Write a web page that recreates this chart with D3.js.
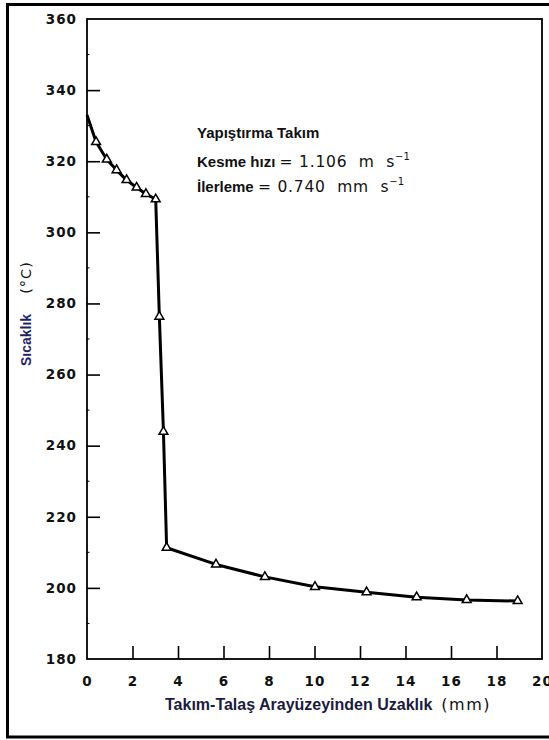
<!DOCTYPE html>
<html><head><meta charset="utf-8">
<script src="https://cdn.jsdelivr.net/npm/d3@7"></script>
<style>
html,body{margin:0;padding:0;background:#fff;}
svg{display:block;}
</style></head>
<body>
<script>
// Data
const distance = [0, 0.40, 0.87, 1.30, 1.74, 2.18, 2.59, 3.02, 3.18, 3.36, 3.50, 5.67, 7.82, 10.02, 12.29, 14.49, 16.69, 18.93];
const temperature = [333.0, 325.4, 320.5, 317.5, 314.7, 312.6, 310.8, 309.3, 276.3, 243.9, 211.3, 206.6, 203.1, 200.3, 198.8, 197.4, 196.6, 196.3];
const markerFrom = 1; // first point has no marker
const xTicks = [0, 2, 4, 6, 8, 10, 12, 14, 16, 18, 20];
const yTicks = [180, 200, 220, 240, 260, 280, 300, 320, 340, 360];
const yMinorTicks = [190, 210, 230, 250, 270, 290, 310, 330, 350];
const xLabel = "Takım-Talaş Arayüzeyinden Uzaklık";
const xUnit = "(mm)";
const yLabel = "Sıcaklık";
const yUnit = "(°C)";
const noteTitle = "Yapıştırma Takım";
const noteLines = [
  {name: "Kesme hızı", value: "= 1.106  m  s", unit: "−1"},
  {name: "İlerleme", value: "= 0.740  mm  s", unit: "−1"}
];

const W = 549, H = 740;
const m = {left: 87, top: 19, right: 542, bottom: 659};
const svg = d3.select("body").append("svg").attr("width", W).attr("height", H);

// outer frame
svg.append("rect").attr("x", 7.5).attr("y", 4.5).attr("width", 560).attr("height", 732.5)
  .attr("fill", "none").attr("stroke", "#000").attr("stroke-width", 3);

const x = d3.scaleLinear().domain([0, 20]).range([m.left, m.right]);
const y = d3.scaleLinear().domain([180, 360]).range([m.bottom, m.top]);

const tickFont = "'DejaVu Sans', sans-serif";
const textFont = "'Liberation Sans', Arial, sans-serif";

// plot box
svg.append("rect").attr("x", m.left).attr("y", m.top)
  .attr("width", m.right - m.left).attr("height", m.bottom - m.top)
  .attr("fill", "none").attr("stroke", "#000").attr("stroke-width", 1.8);

// x axis (inward ticks)
const gx = svg.append("g").attr("transform", `translate(0,${m.bottom})`)
  .call(d3.axisBottom(x).tickValues(xTicks).tickSize(-13).tickPadding(17).tickFormat(d3.format("d")));
gx.select(".domain").remove();
gx.selectAll(".tick line").attr("stroke", "#000").attr("stroke-width", 1.6);
gx.selectAll(".tick text").attr("font-family", tickFont).attr("font-weight", "bold")
  .attr("font-size", 13.5).attr("letter-spacing", 1).attr("fill", "#111");
gx.selectAll(".tick").filter(d => d === 0 || d === 20).select("line").remove();

// y axis (inward ticks)
const gy = svg.append("g").attr("transform", `translate(${m.left},0)`)
  .call(d3.axisLeft(y).tickValues(yTicks).tickSize(-13).tickPadding(10).tickFormat(d3.format("d")));
gy.select(".domain").remove();
gy.selectAll(".tick line").attr("stroke", "#000").attr("stroke-width", 1.6);
gy.selectAll(".tick text").attr("font-family", tickFont).attr("font-weight", "bold")
  .attr("font-size", 13.5).attr("letter-spacing", 1).attr("fill", "#111");
gy.selectAll(".tick").filter(d => d === 180 || d === 360).select("line").remove();

// minor y ticks
svg.append("g").selectAll("line").data(yMinorTicks).join("line")
  .attr("x1", m.left).attr("x2", m.left + 2.5)
  .attr("y1", d => y(d)).attr("y2", d => y(d))
  .attr("stroke", "#000").attr("stroke-width", 1);

// data line
const pts = distance.map((d, i) => ({x: d, y: temperature[i], i}));
svg.append("path").datum(pts)
  .attr("d", d3.line().x(d => x(d.x)).y(d => y(d.y)))
  .attr("fill", "none").attr("stroke", "#000").attr("stroke-width", 3)
  .attr("stroke-linejoin", "round");

// triangle markers
svg.append("g").selectAll("path").data(pts.filter(d => d.i >= markerFrom)).join("path")
  .attr("transform", d => `translate(${x(d.x)},${y(d.y)})`)
  .attr("d", d3.symbol(d3.symbolTriangle, 34))
  .attr("fill", "#fff").attr("stroke", "#000").attr("stroke-width", 1.5);

// annotation
const noteX = 197;
svg.append("text").attr("x", noteX).attr("y", 138)
  .attr("font-family", textFont).attr("font-weight", "bold")
  .attr("font-size", 15).attr("fill", "#111").text(noteTitle);
noteLines.forEach((ln, k) => {
  const t = svg.append("text").attr("x", noteX).attr("y", 167 + k * 25).attr("fill", "#111");
  t.append("tspan").attr("font-family", textFont)
    .attr("font-weight", "bold").attr("font-size", 15).text(ln.name + " ");
  t.append("tspan").attr("font-family", tickFont).attr("font-size", 15.5)
    .attr("letter-spacing", 0.8).style("white-space", "pre").text(ln.value);
  t.append("tspan").attr("font-family", tickFont).attr("font-size", 10)
    .attr("dy", -7).text(ln.unit);
});

// x axis label
const xl = svg.append("text").attr("x", 165).attr("y", 710);
xl.append("tspan").attr("font-family", textFont).attr("font-weight", "bold")
  .attr("font-size", 16).attr("fill", "#1b1b40").text(xLabel);
xl.append("tspan").attr("dx", 9).attr("font-family", tickFont).attr("font-size", 16)
  .attr("letter-spacing", 1.5).attr("fill", "#111").text(xUnit);

// y axis label
const yl = svg.append("text").attr("transform", "translate(31,366) rotate(-90)");
yl.append("tspan").attr("font-family", textFont).attr("font-weight", "bold")
  .attr("font-size", 14).attr("fill", "#1f1f66").text(yLabel);
yl.append("tspan").attr("dx", 20).attr("font-family", tickFont).attr("font-size", 14.5)
  .attr("letter-spacing", 1).attr("fill", "#111").text(yUnit);
</script>
</body></html>
